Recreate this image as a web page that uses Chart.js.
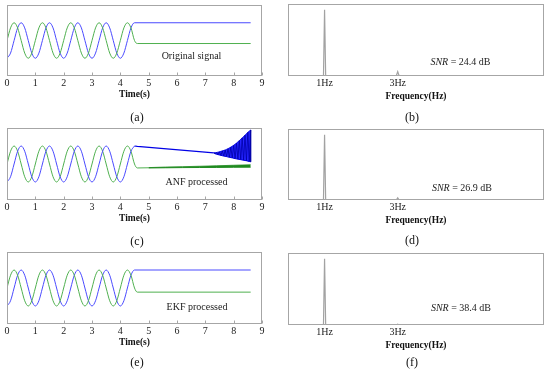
<!DOCTYPE html>
<html><head><meta charset="utf-8">
<script src="https://cdn.jsdelivr.net/npm/chart.js@4.4.0/dist/chart.umd.min.js"></script>
<style>
html,body{margin:0;padding:0;background:#fff;}
#wrap{position:relative;width:550px;height:377px;overflow:hidden;background:#fff;font-family:'Liberation Serif','Times New Roman',serif;color:#222;}
canvas{position:absolute;}
.t{position:absolute;transform:translate(-50%,-50%);white-space:nowrap;line-height:1;}
.ann{font-size:10px;color:#222;}
.lab{font-size:12px;color:#111;}
</style></head><body>
<div id="wrap">
<canvas id="ca"></canvas><canvas id="cb"></canvas>
<canvas id="cc"></canvas><canvas id="cd"></canvas>
<canvas id="ce"></canvas><canvas id="cf"></canvas>
<div class="t ann" style="left:191.5px;top:56px">Original signal</div>
<div class="t ann" style="left:196.5px;top:182px">ANF processed</div>
<div class="t ann" style="left:197px;top:307px">EKF processed</div>
<div class="t ann" style="left:460.5px;top:62px"><i>SNR</i> = 24.4 dB</div>
<div class="t ann" style="left:462px;top:188px"><i>SNR</i> = 26.9 dB</div>
<div class="t ann" style="left:461px;top:308px"><i>SNR</i> = 38.4 dB</div>
<div class="t lab" style="left:137px;top:117px">(a)</div>
<div class="t lab" style="left:412px;top:117px">(b)</div>
<div class="t lab" style="left:137px;top:241px">(c)</div>
<div class="t lab" style="left:412px;top:240px">(d)</div>
<div class="t lab" style="left:137px;top:362px">(e)</div>
<div class="t lab" style="left:412px;top:362px">(f)</div>
</div>
<script>
// ---------- data ----------
const timeTicks = [0,1,2,3,4,5,6,7,8,9];
const freqTickValues = [1,3];
const freqTickLabels = ['1Hz','3Hz'];

const tSine = [0,0.125,0.25,0.375,0.5,0.625,0.75,0.875,1,1.125,1.25,1.375,1.5,1.625,1.75,1.875,2,2.125,2.25,2.375,2.5,2.625,2.75,2.875,3,3.125,3.25,3.375,3.5,3.625,3.75,3.875,4,4.125,4.25,4.375,4.5];
const blueSine = [-1,-0.71,0,0.71,1,0.71,0,-0.71, -1,-0.71,0,0.71,1,0.71,0,-0.71, -1,-0.71,0,0.71,1,0.71,0,-0.71, -1,-0.71,0,0.71,1,0.71,0,-0.71, -1,-0.71,0,0.71,1];
const greenSine = [0,0.71,1,0.71,0,-0.71,-1,-0.71, 0,0.71,1,0.71,0,-0.71,-1,-0.71, 0,0.71,1,0.71,0,-0.71,-1,-0.71, 0,0.71,1,0.71,0,-0.71,-1,-0.71, 0,0.71,1,0.71,0];

// (a) original signal tails
const aBlueTailT = [8.6];       const aBlueTailV = [1];
const aGreenTailT = [4.6, 8.6]; const aGreenTailV = [-0.17, -0.17];

// (c) ANF processed
const cBlueDriftT = [4.5, 4.6, 7.3];  const cBlueDriftV = [1, 0.98, 0.62];
const cBurstUpT = [7.3,7.4,7.5,7.6,7.7,7.8,7.9,8.0,8.1,8.2,8.3,8.4,8.5,8.6];
const cBurstUpV = [0.62,0.64,0.68,0.73,0.78,0.85,0.94,1.04,1.16,1.30,1.45,1.60,1.76,1.89];
const cBurstLoT = [7.3,7.35,7.45,7.55,7.65,7.75,7.85,7.95,8.05,8.15,8.25,8.35,8.45,8.55,8.6];
const cBurstLoV = [0.62,0.57,0.52,0.48,0.44,0.41,0.37,0.34,0.30,0.27,0.24,0.21,0.18,0.14,0.12];
const cBurstZigT = [7.30,7.35,7.40,7.45,7.50,7.55,7.60,7.65,7.70,7.75,7.80,7.85,7.90,7.95,8.00,8.05,8.10,8.15,8.20,8.25,8.30,8.35,8.40,8.45,8.50,8.55,8.60,8.60];
const cBurstZigV = [0.62,0.57,0.64,0.52,0.68,0.48,0.73,0.44,0.78,0.41,0.85,0.37,0.94,0.34,1.04,0.30,1.16,0.27,1.30,0.24,1.45,0.21,1.60,0.18,1.76,0.14,1.89,0.12];
const cGreenTailT = [4.6, 5.0]; const cGreenTailV = [-0.22, -0.21];
const cGreenUpT = [5.0,5.6,6.2,6.8,7.4,8.0,8.6];
const cGreenUpV = [-0.20,-0.17,-0.15,-0.125,-0.10,-0.07,-0.045];
const cGreenLoT = [5.0,5.6,6.2,6.8,7.4,8.0,8.6];
const cGreenLoV = [-0.22,-0.21,-0.20,-0.195,-0.19,-0.18,-0.175];

// (e) EKF processed tails
const eBlueTailT = [8.6];       const eBlueTailV = [1];
const eGreenTailT = [4.6, 8.6]; const eGreenTailV = [-0.23, -0.23];

// spectra
const freq = [0,0.97,1,1.03,2.96,3,3.04,7];
const magB = [0,0,0.92,0,0,0.06,0,0];
const magD = [0,0,0.92,0,0,0.03,0,0];
const magF = [0,0,0.92,0,0,0.01,0,0];

// ---------- drawing ----------
const SERIF = "'Liberation Serif','Times New Roman',serif";
const BLUE = '#4a4aff', BLUE_DARK = '#0000e6', BLUE_FILL = '#2424ff', BLUE_STRIPE = '#0000a8';
const GREEN = '#4fb04f', GREEN_DARK = '#1f8a1f', SPEC = '#a2a2a2';
const pts = (t, v) => t.map((x, i) => ({x: x, y: v[i]}));

function boxPlugin(withTicks) {
  return {
    id: 'box',
    afterDatasetsDraw(chart) {
      const {ctx, chartArea: a} = chart;
      ctx.save();
      ctx.strokeStyle = '#a6a6a6';
      ctx.lineWidth = 1;
      ctx.strokeRect(a.left + 0.5, a.top + 0.5, a.right - a.left - 1, a.bottom - a.top - 1);
      if (withTicks) {
        const xs = chart.scales.x;
        ctx.beginPath();
        timeTicks.forEach(v => {
          const px = Math.round(xs.getPixelForValue(v)) + 0.5;
          ctx.moveTo(px, a.bottom - 0.5);
          ctx.lineTo(px, a.bottom - 3.5);
        });
        ctx.stroke();
      }
      ctx.restore();
    }
  };
}

function panel(id, left, top, w, h, datasets, kind) {
  const padT = 4, padL = 7, padR = kind === 'time' ? 8 : 6;
  const axisH = kind === 'time' ? 24 : 26;
  const cv = document.getElementById(id);
  cv.width = padL + w + padR;
  cv.height = padT + h + axisH;
  cv.style.left = (left - padL) + 'px';
  cv.style.top = (top - padT) + 'px';
  const isTime = kind === 'time';
  new Chart(cv, {
    type: 'line',
    data: {datasets: datasets},
    options: {
      responsive: false, animation: false, devicePixelRatio: 1,
      layout: {padding: {left: padL, right: padR, top: padT, bottom: 0}},
      plugins: {legend: {display: false}, tooltip: {enabled: false}},
      elements: {point: {radius: 0}},
      scales: {
        x: {
          type: 'linear', min: 0, max: isTime ? 9 : 7,
          afterFit: s => { s.height = axisH; },
          afterBuildTicks: s => { s.ticks = (isTime ? timeTicks : freqTickValues).map(v => ({value: v})); },
          ticks: {
            padding: 1, color: '#222', maxRotation: 0, autoSkip: false,
            font: {family: SERIF, size: 10},
            callback: (v, i) => isTime ? String(v) : freqTickLabels[i]
          },
          grid: {display: false, drawTicks: false},
          border: {display: false},
          title: {display: true, text: isTime ? 'Time(s)' : 'Frequency(Hz)', padding: 0, color: '#111',
                  font: {family: SERIF, size: 9.5, weight: 'bold'}}
        },
        y: {type: 'linear', min: isTime ? -2 : 0, max: isTime ? 2 : 1, display: false}
      }
    },
    plugins: [boxPlugin(isTime)]
  });
}

const smooth = (data, color) => ({data: data, borderColor: color, borderWidth: 1, cubicInterpolationMode: 'monotone', fill: false});
const sharp = (data, color, bw) => ({data: data, borderColor: color, borderWidth: bw || 1, tension: 0, fill: false});
const band = (data, color, bg) => ({data: data, borderColor: color, borderWidth: 0.8, tension: 0, fill: '-1', backgroundColor: bg});

// (a)
panel('ca', 7, 5, 255, 71, [
  smooth(pts(tSine, greenSine).concat(pts(aGreenTailT, aGreenTailV)), GREEN),
  smooth(pts(tSine, blueSine).concat(pts(aBlueTailT, aBlueTailV)), BLUE)
], 'time');
// (c)
panel('cc', 7, 128, 255, 72, [
  sharp(pts(cBurstZigT, cBurstZigV), BLUE_STRIPE, 0.8),
  sharp(pts(cBurstLoT, cBurstLoV), BLUE_DARK),
  band(pts(cBurstUpT, cBurstUpV), BLUE_DARK, BLUE_FILL),
  sharp(pts(cBlueDriftT, cBlueDriftV), BLUE_DARK, 1.2),
  smooth(pts(tSine, blueSine), BLUE),
  sharp(pts(cGreenLoT, cGreenLoV), GREEN_DARK),
  band(pts(cGreenUpT, cGreenUpV), GREEN_DARK, GREEN_DARK),
  smooth(pts(tSine, greenSine).concat(pts(cGreenTailT, cGreenTailV)), GREEN)
], 'time');
// (e)
panel('ce', 7, 252, 255, 72, [
  smooth(pts(tSine, greenSine).concat(pts(eGreenTailT, eGreenTailV)), GREEN),
  smooth(pts(tSine, blueSine).concat(pts(eBlueTailT, eBlueTailV)), BLUE)
], 'time');
// (b) (d) (f)
panel('cb', 288, 4, 256, 72, [sharp(pts(freq, magB), SPEC, 1.2)], 'freq');
panel('cd', 288, 129, 256, 71, [sharp(pts(freq, magD), SPEC, 1.2)], 'freq');
panel('cf', 288, 253, 256, 72, [sharp(pts(freq, magF), SPEC, 1.2)], 'freq');
</script>
</body></html>
